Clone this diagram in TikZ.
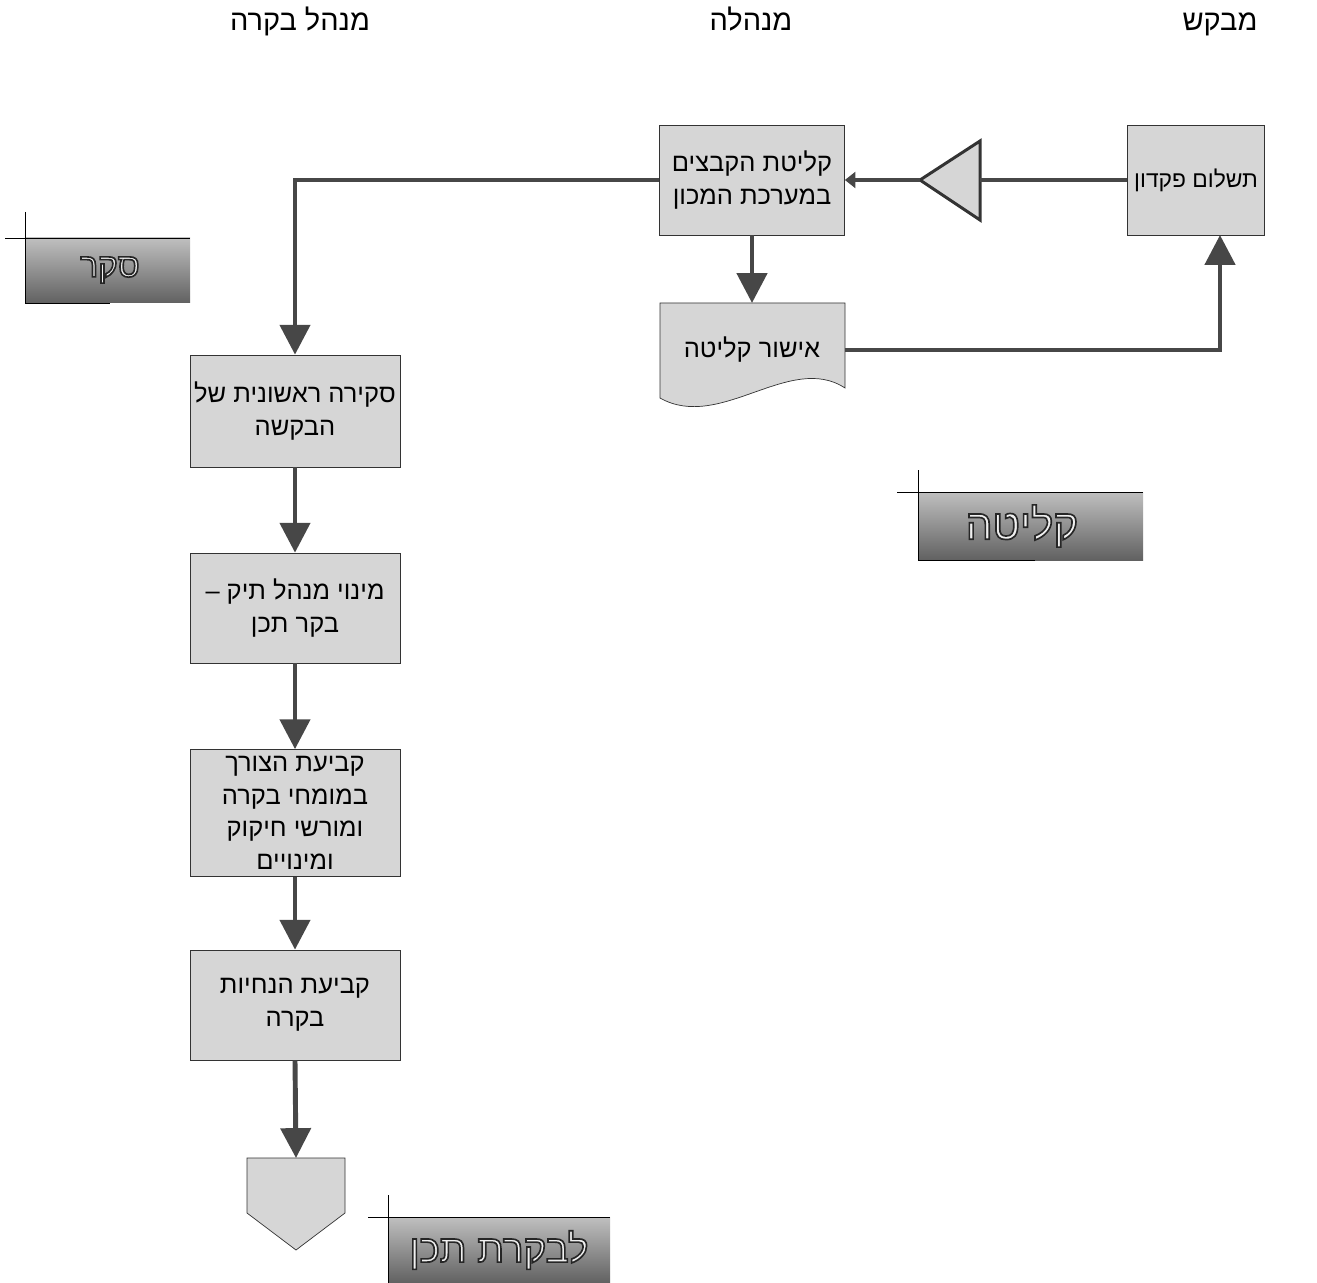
\documentclass[tikz,border=0pt]{standalone}
\usepackage{fontspec}
\setmainfont{Liberation Sans}[Script=Hebrew]
\TeXXeTstate=1
\usetikzlibrary{arrows.meta}
\newcommand{\rl}[1]{\beginR#1\endR}
% testo chiaro con bordo scuro
\newcommand{\outlined}[1]{\color{black!6}\special{pdf:literal direct 2 Tr 0.95 w 0.15 G}#1\special{pdf:literal direct 0 Tr}}

\begin{document}
\begin{tikzpicture}[x=0.02cm, y=-0.02cm,
        box/.style={draw=black!80, fill=black!16, align=center, inner sep=0pt,
            minimum height=2.2cm, font=\fontsize{14.5}{18.5}\selectfont},
        flow/.style={line width=2.8pt, draw=black!72,
            -{Triangle[width=17pt,length=17pt]}},
        thinflow/.style={line width=2.8pt, draw=black!72,
            -{Triangle[width=9pt,length=6pt]}},
        plain/.style={line width=2.8pt, draw=black!72},
        lbl/.style={top color=black!25, bottom color=black!62},
        head/.style={anchor=base, font=\fontsize{16.5}{18}\selectfont}]
        \useasboundingbox (0,0) rectangle (1317,1283);
        % Intestazioni
        \node[head] (hBakara) at (300,31) {\rl{מנהל בקרה}};
        \node[head] (hMinhala) at (751,31) {\rl{מנהלה}};
        \node[head] (hMevakesh) at (1220,31) {\rl{מבקש}};
        % Riga in alto
        \node[box, minimum width=2.74cm, font=\fontsize{13}{18.5}\selectfont] (tashlum) at (1196,180) {\rl{תשלום פקדון}};
        \node[box, minimum width=3.7cm] (kelita) at (752,180) {\rl{קליטת הקבצים}\\\rl{במערכת המכון}};
        \draw[line width=1.7pt, draw=black!80, fill=black!16] (920,180) -- (980,141) -- (980,220) -- cycle;
        \coordinate (triTip) at (920,180);
        \coordinate (triBack) at (980,180);
        \draw[plain] (tashlum.west) -- (triBack);
        \draw[thinflow] (triTip) -- (kelita.east);
        % Documento
        \draw[draw=black!80, fill=black!16] (660,303) -- (845,303) -- (845,388)
            .. controls (790,352) and (720,432) .. (660,398) -- cycle;
        \node[align=center, inner sep=0pt, minimum width=3.7cm,
            font=\fontsize{14.5}{18.5}\selectfont] (ishur) at (752,350) {\rl{אישור קליטה}};
        \coordinate (docTop) at (752,303);
        \coordinate (tashIn) at (1220,235);
        \draw[flow] (kelita.south) -- (docTop);
        \draw[flow] (ishur.east) -| (tashIn);
        % Colonna sinistra
        \node[box, minimum width=4.2cm, minimum height=2.24cm] (skira) at (295,411) {\rl{סקירה ראשונית של}\\\rl{הבקשה}};
        \node[box, minimum width=4.2cm] (minui) at (295,608) {\rl{מינוי מנהל תיק –}\\\rl{בקר תכן}};
        \node[box, minimum width=4.2cm, minimum height=2.54cm] (tzorech) at (295,813) {\rl{קביעת הצורך}\\\rl{במומחי בקרה}\\\rl{ומורשי חיקוק}\\\rl{ומינויים}};
        \node[box, minimum width=4.2cm] (hanchayot) at (295,1005) {\rl{קביעת הנחיות}\\\rl{בקרה}};
        \draw[draw=black!80, fill=black!16] (247,1158) -- (345,1158) -- (345,1213) -- (296,1250) -- (247,1213) -- cycle;
        \coordinate (offTop) at (296,1158);
        \draw[flow] (kelita.west) -| (skira.north);
        \draw[flow] (skira.south) -- (minui.north);
        \draw[flow] (minui.south) -- (tzorech.north);
        \draw[flow] (tzorech.south) -- (hanchayot.north);
        \draw[flow] (hanchayot.south) -- (offTop);
        % Etichette
        \shade[lbl] (25,238) rectangle (190,303);
        \draw (5,238) -- (190,238);
        \draw (25,212) -- (25,303) -- (110,303);
        \node[font=\fontsize{19}{22}\selectfont] (lSeker) at (110,270) {\outlined{\rl{סקר}}};
        \shade[lbl] (918,492) rectangle (1143,560);
        \draw (897,492) -- (1143,492);
        \draw (918,470) -- (918,560) -- (1035,560);
        \node[font=\fontsize{24}{28}\selectfont] (lKelita) at (1022,526) {\outlined{\rl{קליטה}}};
        \shade[lbl] (388,1217) rectangle (610,1283);
        \draw (368,1217) -- (610,1217);
        \draw (388,1195) -- (388,1283);
        \node[font=\fontsize{22}{26}\selectfont] (lBakarat) at (499,1250) {\outlined{\rl{לבקרת תכן}}};
    \end{tikzpicture}
\end{document}
